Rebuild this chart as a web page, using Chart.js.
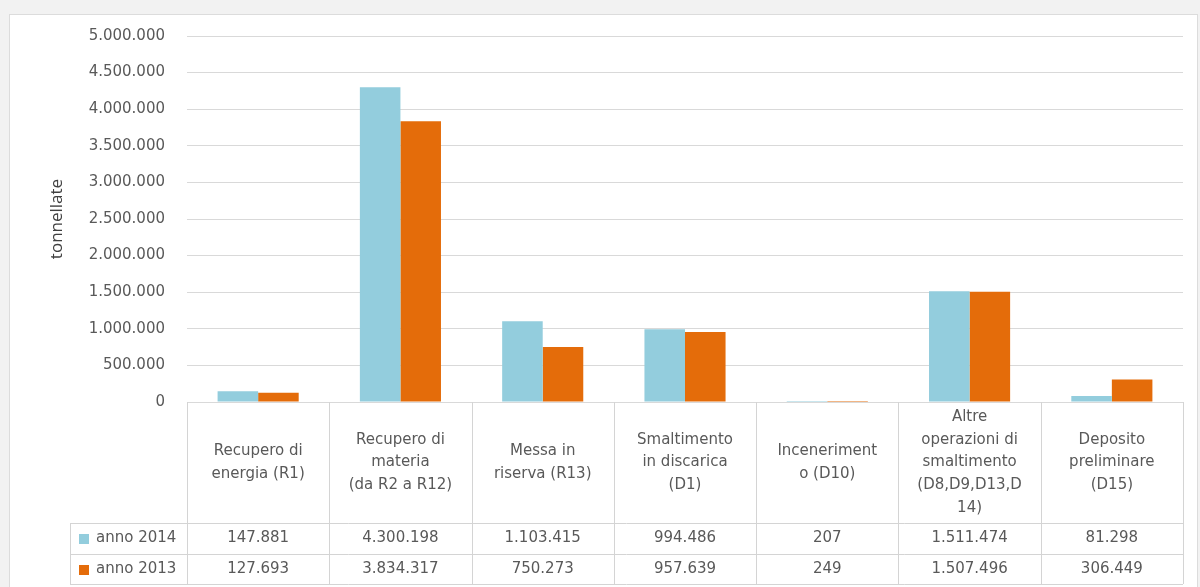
<!DOCTYPE html>
<html>
<head>
<meta charset="utf-8">
<title>Operazioni di gestione rifiuti</title>
<script src="https://cdn.jsdelivr.net/npm/chart.js@4/dist/chart.umd.min.js"></script>
<style>
  body { margin: 0; background: #f2f2f2; }
  #panel {
    position: absolute; left: 9px; top: 14px; width: 1189px; height: 590px;
    background: #ffffff; border: 1px solid #dcdcdc; box-sizing: border-box;
  }
  #chart { position: absolute; left: 10px; top: 15px; }
</style>
</head>
<body>
<div id="panel"></div>
<canvas id="chart" width="1188" height="572"></canvas>
<script>
// Categories (one entry per line of the wrapped label)
const categories = [
    ['Recupero di', 'energia (R1)'],
    ['Recupero di', 'materia', '(da R2 a R12)'],
    ['Messa in', 'riserva (R13)'],
    ['Smaltimento', 'in discarica', '(D1)'],
    ['Inceneriment', 'o (D10)'],
    ['Altre', 'operazioni di', 'smaltimento', '(D8,D9,D13,D', '14)'],
    ['Deposito', 'preliminare', '(D15)']
];

const seriesNames = ['anno 2014', 'anno 2013'];
const values2014 = [147881, 4300198, 1103415, 994486, 207, 1511474, 81298];
const values2013 = [127693, 3834317, 750273, 957639, 249, 1507496, 306449];
const seriesColors = ['#93cddd', '#e46c0a'];

// y axis ticks
const yMin = 0;
const yMax = 5000000;
const yStep = 500000;

const textColor = '#595959';
const baseFont = 'DejaVu Sans';

// thousands separator with dots
function fmt(v) {
    return String(v).replace(/\B(?=(\d{3})+(?!\d))/g, '.');
}

// Draws the data table under the plot, aligned on the category columns
const dataTablePlugin = {
    id: 'dataTable',
    afterDraw(chart) {
        const ctx = chart.ctx;
        const x = chart.scales.x;
        const area = chart.chartArea;
        const n = categories.length;
        const colW = (x.right - x.left) / n;
        const headerBottom = area.bottom + 121;
        const rowH = 31;
        const tableBottom = headerBottom + rowH * 2 - 1;
        const legendLeft = 60;

        ctx.save();
        ctx.strokeStyle = '#d4d4d4';
        ctx.lineWidth = 1;
        ctx.beginPath();
        for (let i = 0; i <= n; i++) {
            const bx = Math.round(x.left + i * colW) + 0.5;
            ctx.moveTo(bx, area.bottom);
            ctx.lineTo(bx, tableBottom);
        }
        ctx.moveTo(legendLeft + 0.5, headerBottom);
        ctx.lineTo(legendLeft + 0.5, tableBottom);
        [headerBottom, headerBottom + rowH, tableBottom].forEach(yy => {
            ctx.moveTo(legendLeft, Math.round(yy) + 0.5);
            ctx.lineTo(x.right, Math.round(yy) + 0.5);
        });
        ctx.stroke();

        ctx.fillStyle = textColor;
        ctx.font = '15px "' + baseFont + '"';
        ctx.textAlign = 'center';
        ctx.textBaseline = 'middle';

        // header labels
        const headerMid = (area.bottom + headerBottom) / 2;
        const lineH = 22.6;
        categories.forEach((lines, i) => {
            const cx = x.getPixelForValue(i);
            const startY = headerMid - (lines.length - 1) * lineH / 2;
            lines.forEach((line, k) => ctx.fillText(line, cx, startY + k * lineH));
        });

        // value rows with legend keys
        [values2014, values2013].forEach((vals, r) => {
            const cy = headerBottom + rowH * r + rowH / 2;
            ctx.textAlign = 'center';
            ctx.fillStyle = textColor;
            vals.forEach((v, i) => ctx.fillText(fmt(v), x.getPixelForValue(i), cy));
            ctx.fillStyle = seriesColors[r];
            ctx.fillRect(legendLeft + 9, Math.round(cy - 5), 10, 10);
            ctx.fillStyle = textColor;
            ctx.textAlign = 'left';
            ctx.fillText(seriesNames[r], legendLeft + 26, cy);
        });
        ctx.restore();
    }
};

new Chart(document.getElementById('chart').getContext('2d'), {
    type: 'bar',
    data: {
        labels: categories,
        datasets: [{
            label: seriesNames[0],
            data: values2014,
            backgroundColor: seriesColors[0],
            categoryPercentage: 0.57,
            barPercentage: 1.0
        }, {
            label: seriesNames[1],
            data: values2013,
            backgroundColor: seriesColors[1],
            categoryPercentage: 0.57,
            barPercentage: 1.0
        }]
    },
    options: {
        responsive: false,
        animation: false,
        layout: { padding: { left: 0, right: 15, top: 21, bottom: 185 } },
        plugins: {
            legend: { display: false },
            tooltip: { enabled: false }
        },
        scales: {
            x: { display: false },
            y: {
                min: yMin,
                max: yMax,
                afterFit(scale) {
                    // fixed axis width; only keep room for half the top label
                    scale.width = 177;
                    scale.paddingTop = 9;
                    scale.paddingBottom = 9;
                },
                grid: { color: '#d9d9d9', drawTicks: false },
                border: { display: false },
                ticks: {
                    stepSize: yStep,
                    padding: 22,
                    color: textColor,
                    font: { family: baseFont, size: 15 },
                    callback: v => fmt(v)
                },
                title: {
                    display: true,
                    text: 'tonnellate',
                    color: '#404040',
                    font: { family: "'Liberation Sans Narrow', 'Open Sans'", size: 17 },
                    padding: { top: 37, bottom: 0 }
                }
            }
        }
    },
    plugins: [dataTablePlugin]
});
</script>
</body>
</html>
